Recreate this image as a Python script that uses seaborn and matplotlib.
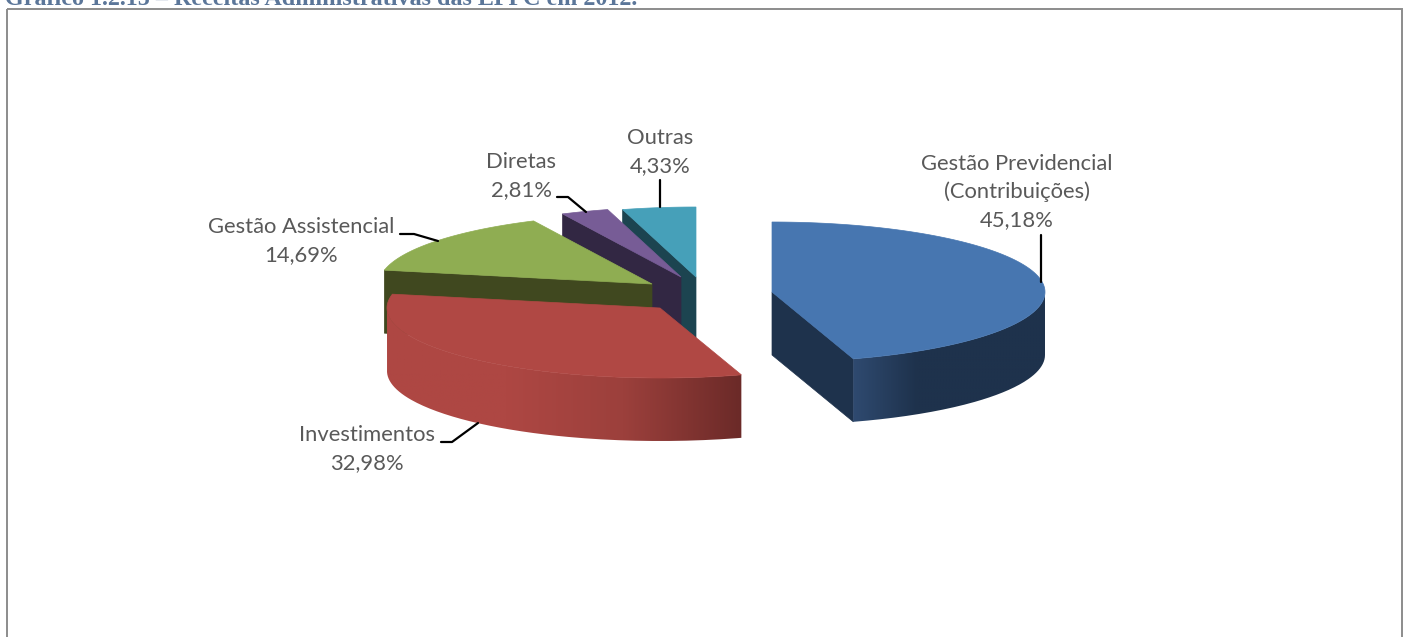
import numpy as np
import matplotlib.pyplot as plt
import seaborn as sns
from matplotlib.colors import LinearSegmentedColormap
from matplotlib.patches import PathPatch, Polygon, Rectangle
from matplotlib.path import Path

# Receitas administrativas (%)
labels = ['Gestão Previdencial\n(Contribuições)', 'Investimentos', 'Gestão Assistencial', 'Diretas', 'Outras']
values = [45.18, 32.98, 14.69, 2.81, 4.33]
title = 'Gráfico 1.2.15 – Receitas Administrativas das EFPC em 2012.'

top_colors = ['#4776B0', '#B04844', '#8FAD52', '#775C96', '#46A0B9']
side_colors = ['#1E324C', '#6B2A28', '#40481F', '#322743', '#1C4450']

# centre of every exploded slice, in pixels of the picture
centres = [(772, 292), (660, 308), (652, 284), (681, 277), (696, 277)]
RX, RY, DEPTH = 273, 70, 63

# label text position and leader line for every slice
label_pos = [(1017, 192), (367, 449), (301, 241), (521, 176), (660, 152)]
leaders = [
    [(1041, 235), (1041, 282)],
    [(441, 442), (452, 442), (478, 423)],
    [(400, 234), (414, 234), (438, 241)],
    [(557, 197), (568, 197), (586, 212)],
    [(660, 180), (660, 207)],
]

sns.set_theme(style='white')
plt.rcParams['font.family'] = ['Lato', 'DejaVu Sans']

fig, ax = plt.subplots(figsize=(14.06, 6.37), dpi=100)
ax.set_position([0, 0, 1, 1])
ax.set_xlim(0, 1406)
ax.set_ylim(637, 0)
ax.axis('off')


def rim(cx, cy, a0, a1, n=120):
    # points on the ellipse, angle clockwise from 12 o'clock
    t = np.radians(np.linspace(a0, a1, n))
    return np.column_stack([cx + RX * np.sin(t), cy - RY * np.cos(t)])


# slice angles come from the values
ends = np.cumsum(values) / np.sum(values) * 360
starts = np.r_[0, ends[:-1]]
slices = list(zip(starts, ends, centres, top_colors, side_colors))


def draw_wall(a0, a1, cx, cy, colors, z):
    # outer wall of the cylinder, shaded from left to right
    a = rim(cx, cy, a0, a1)
    b = a[::-1] + [0, DEPTH]
    verts = np.vstack([a, b, a[:1]])
    clip = PathPatch(Path(verts), fc='none', ec='none', zorder=z)
    ax.add_patch(clip)
    cmap = LinearSegmentedColormap.from_list('wall', colors)
    im = ax.imshow(np.linspace(0, 1, 256)[None, :], cmap=cmap, aspect='auto', zorder=z,
                   extent=(verts[:, 0].min(), verts[:, 0].max(), verts[:, 1].max(), verts[:, 1].min()))
    im.set_clip_path(clip)


def draw_slice(a0, a1, centre, top, side, z):
    cx, cy = centre
    # inner wall on the start edge of the slice
    p = rim(cx, cy, a0, a0, 1)[0]
    if a0 > 180:
        ax.add_patch(Polygon([(cx, cy), p, p + [0, DEPTH], (cx, cy + DEPTH)], fc=side, ec=side, lw=0.5, zorder=z))
    # inner wall on the end edge of the slice
    q = rim(cx, cy, a1, a1, 1)[0]
    if a1 < 180:
        ax.add_patch(Polygon([(cx, cy), q, q + [0, DEPTH], (cx, cy + DEPTH)], fc=side, ec=side, lw=0.5, zorder=z))
    verts = np.vstack([[(cx, cy)], rim(cx, cy, a0, a1)])
    ax.add_patch(Polygon(verts, fc=top, ec=top, lw=0.5, zorder=z + 0.2))


# back to front
z_order = {4: 1, 3: 2, 2: 3, 1: 4, 0: 5}
for i, (a0, a1, centre, top, side) in enumerate(slices):
    draw_slice(a0, a1, centre, top, side, z_order[i])

# the two slices that show their outer wall
draw_wall(90, ends[0], centres[0][0], centres[0][1],
          ['#2F4A70', '#1E324C', '#1E324C', '#1E324C'], 5.1)
draw_wall(starts[1], 270, centres[1][0], centres[1][1],
          ['#AE4743', '#AE4743', '#9C403C', '#6B2A28'], 4.1)

for i, lab in enumerate(labels):
    x, y = label_pos[i]
    pct = f'{values[i]:.2f}%'.replace('.', ',')
    ax.text(x, y, f'{lab}\n{pct}', ha='center', va='center', fontsize=15.8, color='#595959',
            linespacing=1.5, zorder=8)
    pts = np.array(leaders[i])
    sns.lineplot(x=pts[:, 0], y=pts[:, 1], sort=False, color='black', lw=1.6, ax=ax, zorder=8, estimator=None)

# frame of the embedded chart, its lower edge runs off the picture
ax.add_patch(Rectangle((6.5, 8.5), 1395, 700, fc='none', ec='#8C8C8C', lw=1.4, zorder=9))
ax.text(5, 5, title, family='Liberation Serif', weight='bold', fontsize=17.4, color='#5B7699',
        ha='left', va='baseline', zorder=10)

ax.set_xlim(0, 1406)
ax.set_ylim(637, 0)
fig.savefig('out.png', dpi=100)
